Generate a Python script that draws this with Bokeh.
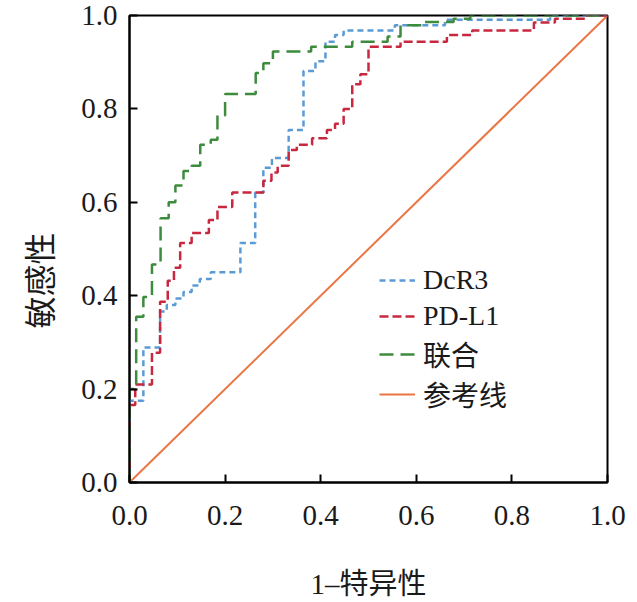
import math
from bokeh.plotting import figure
from bokeh.models import Legend, LegendItem, Title, FixedTicker, Range1d
from bokeh.embed import file_html
from bokeh.resources import INLINE

# ROC points (1-specificity, sensitivity)
dcr3_fpr = [0, 0, 0.029, 0.064, 0.078, 0.096, 0.113, 0.130, 0.147, 0.170,
            0.232, 0.263, 0.280, 0.298, 0.333, 0.364, 0.389, 0.410, 0.430, 0.448,
            0.555, 0.660, 0.880, 1.0]
dcr3_tpr = [0, 0.175, 0.289, 0.366, 0.380, 0.394, 0.408, 0.422, 0.436, 0.450,
            0.513, 0.621, 0.674, 0.695, 0.755, 0.881, 0.902, 0.944, 0.958, 0.968,
            0.979, 0.991, 1.0, 1.0]

pdl1_fpr = [0, 0, 0.012, 0.047, 0.064, 0.080, 0.093, 0.106, 0.130, 0.166,
            0.184, 0.215, 0.280, 0.297, 0.310, 0.333, 0.350, 0.382, 0.413, 0.430,
            0.448, 0.466, 0.483, 0.500, 0.567, 0.664, 0.717, 0.846, 0.890, 0.955, 1.0]
pdl1_tpr = [0, 0.166, 0.210, 0.278, 0.387, 0.432, 0.460, 0.513, 0.534, 0.562,
            0.590, 0.621, 0.646, 0.664, 0.678, 0.712, 0.723, 0.737, 0.755, 0.768,
            0.800, 0.853, 0.874, 0.933, 0.944, 0.958, 0.968, 0.985, 0.993, 1.0, 1.0]

comb_fpr = [0, 0, 0.014, 0.029, 0.047, 0.065, 0.082, 0.096, 0.113, 0.130,
            0.148, 0.170, 0.184, 0.200, 0.264, 0.280, 0.300, 0.380, 0.466, 0.540,
            0.567, 0.615, 0.678, 0.713, 1.0]
comb_tpr = [0, 0.200, 0.355, 0.397, 0.467, 0.566, 0.600, 0.636, 0.667, 0.678,
            0.723, 0.734, 0.786, 0.832, 0.877, 0.898, 0.923, 0.933, 0.944, 0.955,
            0.979, 0.986, 0.993, 1.0, 1.0]

ref_x = [0, 1]
ref_y = [0, 1]

series_names = ["DcR3", "PD-L1", "联合", "参考线"]
tick_values = [0.0, 0.2, 0.4, 0.6, 0.8, 1.0]
tick_labels = ["0.0", "0.2", "0.4", "0.6", "0.8", "1.0"]
x_title = "1–特异性"
y_title = "敏感性"

FONT = "Liberation Serif, Noto Sans CJK SC"

p = figure(width=629, height=602, output_backend="svg", toolbar_location=None,
           x_range=Range1d(0, 1), y_range=Range1d(0, 1),
           min_border_left=129, min_border_right=22, min_border_top=15,
           min_border_bottom=119)
p.background_fill_color = "white"
p.border_fill_color = "white"
p.outline_line_color = "black"
p.outline_line_width = 2
p.xgrid.visible = False
p.ygrid.visible = False

for ax in (p.xaxis[0], p.yaxis[0]):
    ax.ticker = FixedTicker(ticks=tick_values)
    ax.major_label_overrides = {v: l for v, l in zip(tick_values, tick_labels)}
    ax.minor_tick_line_color = None
    ax.major_tick_in = 8
    ax.major_tick_out = 0
    ax.major_tick_line_width = 2
    ax.axis_line_width = 2
    ax.axis_line_color = "black"
    ax.major_tick_line_color = "black"
    ax.major_label_text_font = FONT
    ax.major_label_text_font_size = "29px"
    ax.major_label_text_color = "#1a1a1a"

p.xaxis[0].major_label_standoff = 23
p.xaxis[0].axis_label = x_title
p.xaxis[0].axis_label_text_font = FONT
p.xaxis[0].axis_label_text_font_size = "29px"
p.xaxis[0].axis_label_text_font_style = "normal"
p.xaxis[0].axis_label_text_color = "#1a1a1a"
p.xaxis[0].axis_label_standoff = 40

p.yaxis[0].major_label_standoff = 12

r_ref = p.line(ref_x, ref_y, line_color="#ea7645", line_width=2)
r_dcr3 = p.step(dcr3_fpr, dcr3_tpr, mode="after", line_color="#5b9bd5",
                line_width=2.5, line_dash="6 4")
r_pdl1 = p.step(pdl1_fpr, pdl1_tpr, mode="after", line_color="#c8283f",
                line_width=2.5, line_dash="9 4")
r_comb = p.step(comb_fpr, comb_tpr, mode="after", line_color="#3d8b3d",
                line_width=2.5, line_dash="14 7")

legend = Legend(items=[
    LegendItem(label=series_names[0], renderers=[r_dcr3]),
    LegendItem(label=series_names[1], renderers=[r_pdl1]),
    LegendItem(label=series_names[2], renderers=[r_comb]),
    LegendItem(label=series_names[3], renderers=[r_ref]),
], location=(250, 68))
legend.border_line_color = None
legend.background_fill_alpha = 0
legend.padding = 0
legend.margin = 0
legend.spacing = 0
legend.glyph_width = 36
legend.glyph_height = 36
legend.label_height = 36
legend.label_standoff = 8
legend.label_text_font = FONT
legend.label_text_font_size = "28px"
legend.label_text_color = "#1a1a1a"
p.add_layout(legend, "center")

ytitle = Title(text=y_title, align="left", offset=154, vertical_align="top",
               text_font=FONT, text_font_size="32px",
               text_font_style="normal", text_color="#1a1a1a")
if "standoff" in Title.properties():
    ytitle.standoff = 36
p.add_layout(ytitle, "left")

open("out.html", "w").write(file_html(p, INLINE))
